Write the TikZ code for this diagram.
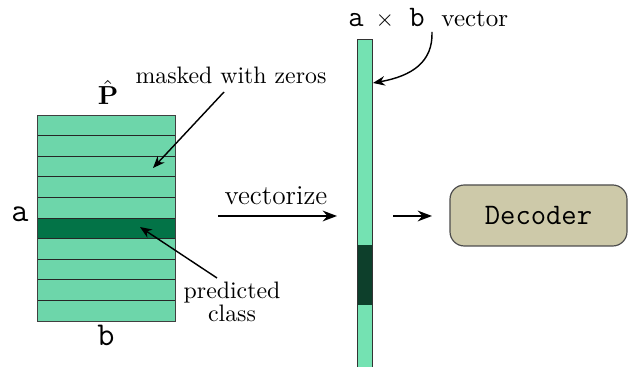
\documentclass[tikz,border=0pt]{standalone}
\usetikzlibrary{arrows.meta}
\definecolor{matlight}{HTML}{6DD6AA}
\definecolor{matdark}{HTML}{037347}
\definecolor{veclight}{HTML}{74E2B2}
\definecolor{vecdark}{HTML}{0D3F2B}
\definecolor{decfill}{HTML}{CDC9A9}
\begin{document}
\begin{tikzpicture}[x=0.42pt,y=-0.42pt,
  arr/.style={-{Stealth[length=5pt,width=4pt]},line width=0.6pt},
  bigarr/.style={-{Stealth[length=6pt,width=4.5pt]},line width=0.8pt},
  rowline/.style={draw=black!85,line width=0.4pt},
  lbl/.style={inner sep=0pt,font=\fontsize{10}{12}\selectfont},
  ttlbl/.style={inner sep=0pt,font=\fontsize{14}{16}\selectfont\ttfamily},
  ttsmall/.style={inner sep=0pt,font=\fontsize{12.5}{14}\selectfont\ttfamily}]
\useasboundingbox (0,0) rectangle (631,367);
% matrix
\node[draw=black!75,fill=matlight,line width=0.4pt,minimum width=138*0.42pt,minimum height=206*0.42pt,inner sep=0pt,anchor=north west] (mat) at (37,115) {};
\fill[matdark] (37,217.6) rectangle (175,238.2);
\foreach \i in {1,...,9}{
  \draw[rowline] (37,{115+20.6*\i}) -- (175,{115+20.6*\i});
}
\draw[draw=black!75,line width=0.4pt] (37,115) rectangle (175,321);
\node[lbl,anchor=base,font=\fontsize{11}{13}\selectfont] (P) at (108,105) {$\hat{\mathbf{P}}$};
\node[ttlbl] (a) at (20,214) {a};
\node[ttlbl] (b) at (106,335) {b};
% annotations
\node[lbl,anchor=base] (mask) at (231,84) {masked with zeros};
\coordinate (masktip) at (153,168);
\draw[arr] (224,92) -- (masktip);
\node[lbl,align=center,font=\fontsize{10}{9.5}\selectfont] (pred) at (232,302) {predicted\\class};
\coordinate (predtip) at (140,227);
\draw[arr] (217,278) -- (predtip);
% vectorize
\coordinate (v1) at (218,216);
\coordinate (v2) at (337,216);
\draw[bigarr] (v1) -- (v2);
\node[lbl,anchor=base,font=\fontsize{11.5}{13}\selectfont] (vz) at (276,205) {vectorize};
% vector
\node[draw=black!80,fill=veclight,line width=0.4pt,minimum width=15*0.42pt,minimum height=330*0.42pt,inner sep=0pt,anchor=north west] (vec) at (357,39) {};
\fill[vecdark] (357,245) rectangle (372,305);
\draw[draw=black!80,line width=0.4pt] (357,39) rectangle (372,369);
\node[ttsmall,anchor=base] (va) at (356,27) {a};
\node[lbl,anchor=base] (vx) at (385,27) {$\times$};
\node[ttsmall,anchor=base] (vb) at (417,27) {b};
\node[lbl,anchor=base west,font=\fontsize{10.5}{12}\selectfont] (vw) at (441,27) {vector};
\coordinate (vtop) at (432,32);
\coordinate (vtip) at (373,83);
\draw[arr] (vtop) .. controls (433,62) and (412,76) .. (vtip);
% decoder
\coordinate (d1) at (393,216);
\coordinate (d2) at (432,216);
\node[draw=black!70,fill=decfill,rounded corners=6pt,line width=0.5pt,minimum width=177*0.42pt,minimum height=61*0.42pt,inner sep=0pt,font=\fontsize{12.5}{14}\selectfont\ttfamily] (dec) at (538.5,215.5) {Decoder};
\draw[bigarr] (d1) -- (d2);
\end{tikzpicture}
\end{document}
